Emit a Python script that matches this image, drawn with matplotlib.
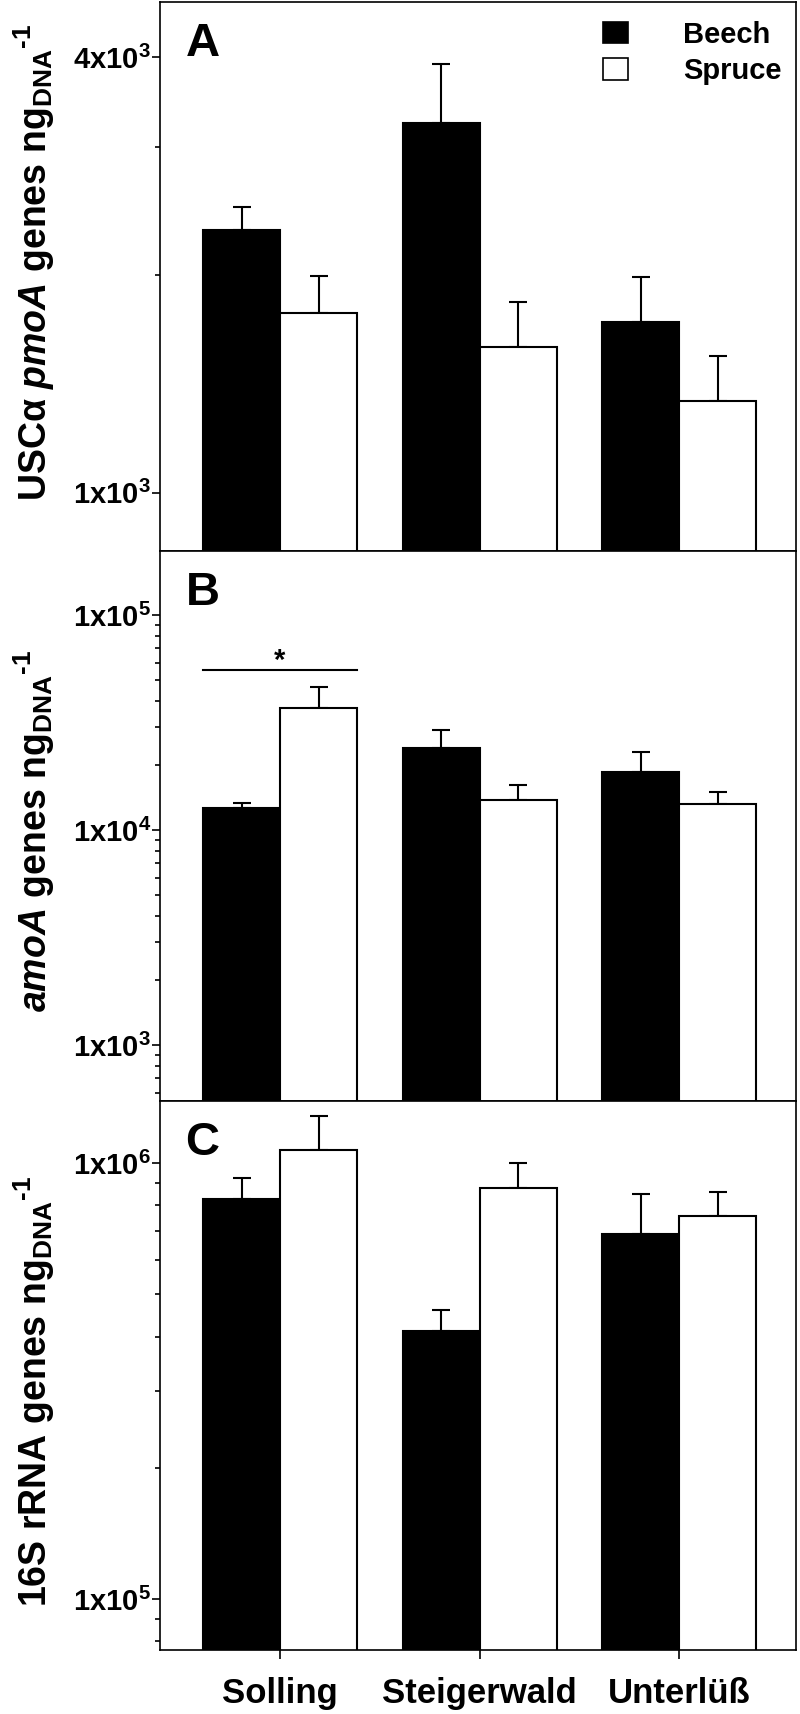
import numpy as np
import matplotlib.pyplot as plt
from matplotlib.ticker import FixedLocator, NullFormatter, LogLocator
from matplotlib.patches import Patch

plt.rcParams['font.family'] = ['Liberation Sans', 'DejaVu Sans']
plt.rcParams['font.weight'] = 'bold'
plt.rcParams['axes.labelweight'] = 'bold'
plt.rcParams['mathtext.fontset'] = 'custom'
plt.rcParams['mathtext.rm'] = 'Liberation Sans:bold'
plt.rcParams['mathtext.it'] = 'Liberation Sans:bold:italic'
plt.rcParams['mathtext.bf'] = 'Liberation Sans:bold'

# ==================== Data ====================
sites = ['Solling', 'Steigerwald', 'Unterlüß']

pmoa_beech = [2305, 3240, 1720]
pmoa_beech_se = [177, 670, 268]
pmoa_spruce = [1770, 1590, 1340]
pmoa_spruce_se = [223, 246, 206]

amoa_beech = [12700, 24100, 18600]
amoa_beech_se = [630, 5000, 4400]
amoa_spruce = [37000, 13800, 13200]
amoa_spruce_se = [9200, 2450, 1900]

rrna_beech = [828000, 412000, 689000]
rrna_beech_se = [96000, 48000, 162000]
rrna_spruce = [1069000, 877000, 754000]
rrna_spruce_se = [213000, 121000, 105000]


def sci(m, e):
    return r'$\mathrm{%dx10^{%d}}$' % (m, e)


# ==================== Plot ====================
fig = plt.figure(figsize=(8, 17.14), dpi=100)

W = 0.386
x = np.arange(len(sites))
unit = r'ng$_{\mathrm{DNA}}$$^{\text{-}\mathrm{1}}$'

panels = [
    dict(rect=[0.2, 0.6787, 0.795, 0.3204], beech=pmoa_beech, bse=pmoa_beech_se,
         spruce=pmoa_spruce, sse=pmoa_spruce_se, ylim=(832, 4770), letter='A',
         major=[1e3, 4e3], labels=[sci(1, 3), sci(4, 3)], minor=[2e3, 3e3], label_y=0.525,
         ylabel=r'USCα $\mathit{pmoA}$ genes ' + unit),
    dict(rect=[0.2, 0.3578, 0.795, 0.3209], beech=amoa_beech, bse=amoa_beech_se,
         spruce=amoa_spruce, sse=amoa_spruce_se, ylim=(551, 1.99e5), letter='B',
         major=[1e3, 1e4, 1e5], labels=[sci(1, 3), sci(1, 4), sci(1, 5)], minor=None,
         label_y=0.49,
         ylabel=r'$\mathit{amoA}$ genes ' + unit),
    dict(rect=[0.2, 0.03734, 0.795, 0.3205], beech=rrna_beech, bse=rrna_beech_se,
         spruce=rrna_spruce, sse=rrna_spruce_se, ylim=(7.64e4, 1.39e6), letter='C',
         major=[1e5, 1e6], labels=[sci(1, 5), sci(1, 6)], minor=None, label_y=0.47,
         ylabel='16S rRNA genes ' + unit),
]

axes = []
for p in panels:
    ax = fig.add_axes(p['rect'])
    axes.append(ax)
    ax.set_yscale('log')
    ax.bar(x, p['beech'], width=-W, align='edge', color='black', edgecolor='black',
           linewidth=1.5, zorder=2)
    ax.bar(x, p['spruce'], width=W, align='edge', color='white', edgecolor='black',
           linewidth=1.5, zorder=2)
    ax.errorbar(x - W / 2, p['beech'], yerr=[np.zeros(3), p['bse']], fmt='none',
                ecolor='black', elinewidth=1.5, capsize=6.5, capthick=1.5, zorder=1)
    ax.errorbar(x + W / 2, p['spruce'], yerr=[np.zeros(3), p['sse']], fmt='none',
                ecolor='black', elinewidth=1.5, capsize=6.5, capthick=1.5, zorder=1)
    ax.set_xlim(-0.6015, 2.586)
    ax.set_ylim(*p['ylim'])
    ax.yaxis.set_major_locator(FixedLocator(p['major']))
    ax.set_yticklabels(p['labels'])
    if p['minor'] is not None:
        ax.yaxis.set_minor_locator(FixedLocator(p['minor']))
    else:
        ax.yaxis.set_minor_locator(LogLocator(base=10, subs=np.arange(2, 10)))
    ax.yaxis.set_minor_formatter(NullFormatter())
    ax.tick_params(axis='y', which='major', length=6, width=1.2, pad=0.5, labelsize=21)
    ax.tick_params(axis='y', which='minor', length=3.5, width=1.2)
    for s in ax.spines.values():
        s.set_linewidth(1.2)
    ax.set_ylabel(p['ylabel'], fontsize=27)
    ax.yaxis.set_label_coords(-0.162, p['label_y'])
    ax.text(0.04, 0.963, p['letter'], transform=ax.transAxes, fontsize=34,
            fontweight='bold', ha='left', va='top')
    ax.set_xticks(x)
    ax.set_xticklabels([])
    ax.tick_params(axis='x', length=0)

# legend in panel A
handles = [Patch(facecolor='black', edgecolor='black', linewidth=1.2, label='Beech'),
           Patch(facecolor='white', edgecolor='black', linewidth=1.2, label='Spruce')]
axes[0].legend(handles=handles, loc='upper right', bbox_to_anchor=(1.0, 0.992),
               frameon=False, fontsize=21, handlelength=0.85, handleheight=0.75,
               handletextpad=1.9, labelspacing=0.3, borderaxespad=0.1)

# significance marker in panel B
axes[1].plot([0 - W, 0 + W], [5.52e4, 5.52e4], color='black', linewidth=1.5)
axes[1].text(0, 5.6e4, '*', ha='center', va='baseline', fontsize=21)

# x labels on bottom panel
axes[2].set_xticklabels(sites, fontsize=25)
axes[2].tick_params(axis='x', length=6.5, width=1.2, pad=13)

plt.savefig('out.png', dpi=100)
